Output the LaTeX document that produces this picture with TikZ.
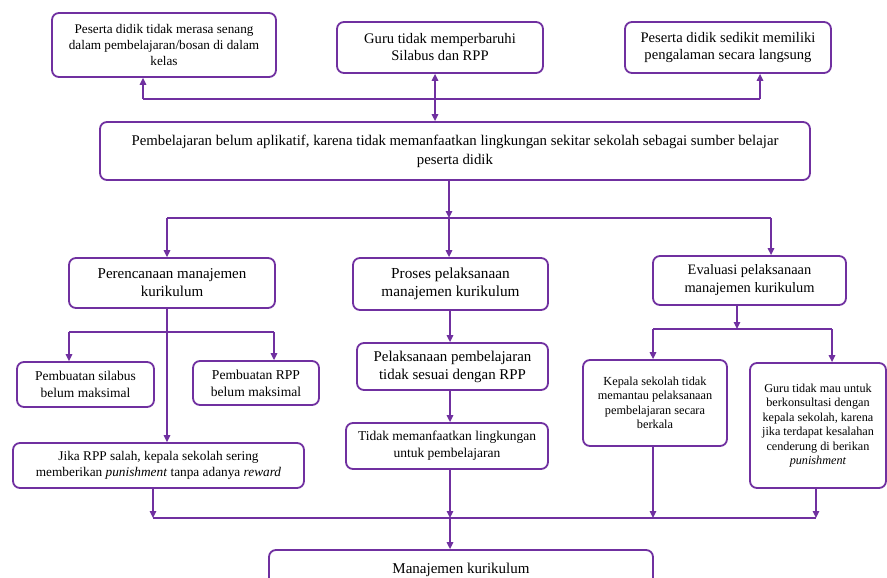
\documentclass[tikz,border=0pt]{standalone}
\usepackage{fontspec}
\setmainfont{Liberation Serif}
\usetikzlibrary{arrows.meta}
\definecolor{pur}{HTML}{7030A0}
\begin{document}
\begin{tikzpicture}[x=1pt,y=-1pt,
  box/.style={draw=pur,line width=1.8pt,rounded corners=7pt,align=center,inner sep=0pt,fill=white},
  conn/.style={draw=pur,line width=1.4pt},
  arr/.style={conn,-{Triangle[length=7pt,width=6.5pt]}},
  darr/.style={conn,{Triangle[length=7pt,width=6.5pt]}-{Triangle[length=7pt,width=6.5pt]}}
]
\clip (0,0) rectangle (887,578);
\fill[white] (0,0) rectangle (887,578);
% boxes
\node[box,minimum width=224,minimum height=64,font=\fontsize{13.2}{16}\selectfont] (b1) at (164,45) {Peserta didik tidak merasa senang\\dalam pembelajaran/bosan di dalam\\kelas};
\node[box,minimum width=206,minimum height=51,font=\fontsize{14.6}{17}\selectfont] (b2) at (440,47.5) {Guru tidak memperbaruhi\\Silabus dan RPP};
\node[box,minimum width=206,minimum height=51,font=\fontsize{14.6}{17}\selectfont] (b3) at (728,47.5) {Peserta didik sedikit memiliki\\pengalaman secara langsung};
\node[box,minimum width=710,minimum height=58,font=\fontsize{14.8}{19}\selectfont] (main) at (455,151) {Pembelajaran belum aplikatif, karena tidak memanfaatkan lingkungan sekitar sekolah sebagai sumber belajar\\peserta didik};
\node[box,minimum width=206,minimum height=50,font=\fontsize{15}{18}\selectfont] (per) at (172,283) {Perencanaan manajemen\\kurikulum};
\node[box,minimum width=195,minimum height=52,font=\fontsize{15.3}{18}\selectfont] (pro) at (450.5,284) {Proses pelaksanaan\\manajemen kurikulum};
\node[box,minimum width=193,minimum height=49,font=\fontsize{14.4}{18}\selectfont] (eva) at (749.5,280.5) {Evaluasi pelaksanaan\\manajemen kurikulum};
\node[box,minimum width=137,minimum height=45,font=\fontsize{13.5}{17}\selectfont] (sil) at (85.5,384.5) {Pembuatan silabus\\belum maksimal};
\node[box,minimum width=126,minimum height=44,font=\fontsize{13.6}{17}\selectfont] (rpp) at (256,383) {Pembuatan RPP\\belum maksimal};
\node[box,minimum width=291,minimum height=45,font=\fontsize{13.3}{16}\selectfont] (jika) at (158.5,465.5) {Jika RPP salah, kepala sekolah sering\\memberikan \textit{punishment} tanpa adanya \textit{reward}};
\node[box,minimum width=191,minimum height=47,font=\fontsize{14.9}{18}\selectfont] (pel) at (452.5,366.5) {Pelaksanaan pembelajaran\\tidak sesuai dengan RPP};
\node[box,minimum width=202,minimum height=46,font=\fontsize{13.5}{17}\selectfont] (tid) at (447,446) {Tidak memanfaatkan lingkungan\\untuk pembelajaran};
\node[box,minimum width=144,minimum height=86,font=\fontsize{12.3}{14.5}\selectfont] (kep) at (655,403) {Kepala sekolah tidak\\memantau pelaksanaan\\pembelajaran secara\\berkala};
\node[box,minimum width=136,minimum height=125,font=\fontsize{12.2}{14.5}\selectfont] (guru) at (818,425.5) {Guru tidak mau untuk\\berkonsultasi dengan\\kepala sekolah, karena\\jika terdapat kesalahan\\cenderung di berikan\\\textit{punishment}};
\node[box,minimum width=384,minimum height=70,font=\fontsize{15}{17}\selectfont] (man) at (461,585) {Manajemen kurikulum\\\mbox{}\\\mbox{}};
% top connectors
\coordinate (tL) at (143,99);
\coordinate (tR) at (760,99);
\coordinate (tM) at (435,99);
\draw[conn] (tL) -- (tR);
\draw[arr] (tL) -- (tL |- b1.south);
\draw[arr] (tR) -- (tR |- b3.south);
\draw[darr] (tM |- b2.south) -- (tM |- main.north);
% middle connectors
\coordinate (mL) at (167,218);
\coordinate (mC) at (449,218);
\coordinate (mR) at (771,218);
\draw[conn] (mL) -- (mR);
\draw[arr] (mC |- main.south) -- (mC);
\draw[arr] (mL) -- (mL |- per.north);
\draw[arr] (mC) -- (mC |- pro.north);
\draw[arr] (mR) -- (mR |- eva.north);
% perencanaan
\coordinate (pL) at (69,332);
\coordinate (pR) at (274,332);
\coordinate (pC) at (167,332);
\draw[conn] (pL) -- (pR);
\draw[arr] (pC |- per.south) -- (pC |- jika.north);
\draw[arr] (pL) -- (pL |- sil.north);
\draw[arr] (pR) -- (pR |- rpp.north);
% proses
\coordinate (cx) at (450,0);
\draw[arr] (cx |- pro.south) -- (cx |- pel.north);
\draw[arr] (cx |- pel.south) -- (cx |- tid.north);
% evaluasi
\coordinate (eL) at (653,329);
\coordinate (eR) at (832,329);
\coordinate (eC) at (737,329);
\draw[conn] (eL) -- (eR);
\draw[arr] (eC |- eva.south) -- (eC);
\draw[arr] (eL) -- (eL |- kep.north);
\draw[arr] (eR) -- (eR |- guru.north);
% bottom
\coordinate (bL) at (153,518);
\coordinate (bC) at (450,518);
\coordinate (bK) at (653,518);
\coordinate (bR) at (816,518);
\draw[conn] (bL) -- (bR);
\draw[arr] (bL |- jika.south) -- (bL);
\draw[arr] (bC |- tid.south) -- (bC);
\draw[arr] (bK |- kep.south) -- (bK);
\draw[arr] (bR |- guru.south) -- (bR);
\draw[arr] (bC) -- (bC |- man.north);
\end{tikzpicture}
\end{document}
